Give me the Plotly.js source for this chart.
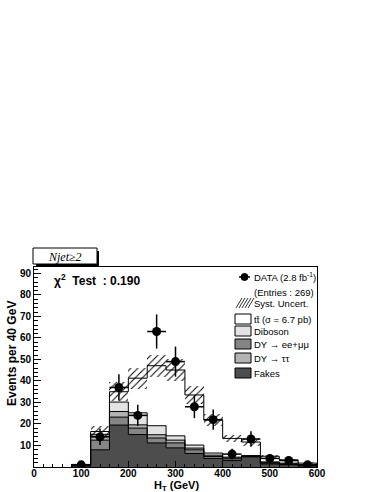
<!DOCTYPE html>
<html>
<head>
<meta charset="utf-8">
<script src="https://cdn.plot.ly/plotly-3.0.1.min.js"></script>
<style>
html,body{margin:0;padding:0;background:#fff;}
#chart{width:380px;height:492px;}
</style>
</head>
<body>
<div id="chart"></div>
<script>
// ---- data ----
const binCenters = [100, 140, 180, 220, 260, 300, 340, 380, 420, 460, 500, 540, 580];
const binWidth = 40;
const fakes   = [0.5, 8.0, 19.5, 15.1, 11.2, 8.9, 6.3, 4.0, 3.0, 4.7, 1.4, 1.0, 0.5];
const dyEEMM  = [0.3, 4.5, 3.7, 3.0, 2.3, 2.3, 1.7, 0.9, 0.8, 0.3, 0.4, 0.3, 0.2];
const dyTauTau= [0.1, 1.8, 2.6, 1.5, 1.5, 1.3, 0.8, 0.6, 0.4, 0.1, 0.2, 0.1, 0.05];
const diboson = [0.1, 0.9, 4.4, 5.6, 4.2, 2.0, 1.4, 1.0, 0.4, 0.2, 0.4, 0.4, 0.15];
const ttbar   = [0.2, 1.3, 4.8, 16.1, 27.9, 30.6, 23.3, 15.3, 8.7, 6.3, 2.6, 1.5, 0.9];
const systUnc = [0.2, 2.6, 4.3, 4.8, 5.2, 5.0, 4.3, 2.7, 1.5, 2.0, 0.8, 0.5, 0.3];
const dataCounts = [1, 14, 37, 24, 63, 49, 28, 22, 6, 13, 4, 3, 1];
const xTicks = [0, 100, 200, 300, 400, 500, 600];
const yTicks = [0, 10, 20, 30, 40, 50, 60, 70, 80, 90];
const yTickText = [' ', '10', '20', '30', '40', '50', '60', '70', '80', '90'];

// ---- stacking ----
const comps = [
  {name: 'Fakes', y: fakes, color: '#4d4d4d'},
  {name: 'DY → ee+μμ', y: dyEEMM, color: '#858585'},
  {name: 'DY → ττ', y: dyTauTau, color: '#b3b3b3'},
  {name: 'Diboson', y: diboson, color: '#e3e3e3'},
  {name: 'tt̄', y: ttbar, color: '#ffffff'}
];
const leftEdges = binCenters.map(c => c - binWidth / 2);
const lastEdge = binCenters[binCenters.length - 1] + binWidth / 2;
const traces = [];
const outlines = [];
let cum = binCenters.map(() => 0);
comps.forEach(c => {
  traces.push({
    type: 'bar', x: binCenters, y: c.y, base: cum.slice(), width: binWidth,
    marker: {color: c.color, line: {width: 0}},
    hoverinfo: 'skip', showlegend: false
  });
  cum = cum.map((v, i) => v + c.y[i]);
  outlines.push({
    type: 'scatter', mode: 'lines',
    x: [leftEdges[0]].concat(leftEdges, [lastEdge, lastEdge]),
    y: [0].concat(cum, [cum[cum.length - 1], 0]),
    line: {shape: 'hv', color: '#000', width: 1},
    hoverinfo: 'skip', showlegend: false
  });
});
const total = cum;
outlines.forEach(o => traces.push(o));
traces.push({
  type: 'bar', x: binCenters, y: systUnc.map(s => 2 * s),
  base: total.map((t, i) => t - systUnc[i]), width: binWidth,
  marker: {color: 'rgba(0,0,0,0)', line: {width: 0},
    pattern: {shape: '/', fgcolor: '#000', bgcolor: 'rgba(0,0,0,0)', size: 5, solidity: 0.2}},
  hoverinfo: 'skip', showlegend: false
});
traces.push({
  type: 'scatter', mode: 'markers', x: binCenters, y: dataCounts,
  marker: {color: '#000', size: 9},
  error_y: {type: 'data', array: dataCounts.map(v => Math.sqrt(v)), color: '#000', thickness: 1.5, width: 0},
  error_x: {type: 'constant', value: binWidth / 2, color: '#000', thickness: 1.5, width: 0},
  hoverinfo: 'skip', showlegend: false
});

// ---- layout helpers (pixel -> paper) ----
const L = 34, R = 317, T = 267, B = 467;
const fx = px => (px - L) / (R - L);
const fy = py => (B - py) / (B - T);

const shapes = [];
const annotations = [];

// Njet box with shadow
shapes.push({type: 'rect', xref: 'paper', yref: 'paper', x0: fx(36), x1: fx(99), y0: fy(251), y1: fy(266),
  fillcolor: '#000', line: {width: 0}});
shapes.push({type: 'rect', xref: 'paper', yref: 'paper', x0: fx(33), x1: fx(97), y0: fy(248), y1: fy(264),
  fillcolor: '#fff', line: {color: '#000', width: 1}});
annotations.push({xref: 'paper', yref: 'paper', x: fx(65), y: fy(256.5), text: 'Njet≥2', showarrow: false,
  font: {family: 'Liberation Serif', size: 12, color: '#000', style: 'italic'}, xanchor: 'center', yanchor: 'middle'});

// chi2 text
annotations.push({xref: 'paper', yref: 'paper', x: fx(52), y: fy(280), showarrow: false,
  text: '<b>χ<sup>2</sup>&nbsp; Test&nbsp; : 0.190</b>',
  font: {family: 'Liberation Sans', size: 12, color: '#000'}, xanchor: 'left', yanchor: 'middle'});

// legend
const legX0 = 235, legX1 = 251, textX = 252;
const legFont = {family: 'Liberation Sans', size: 9.5, color: '#000'};
function legText(py, txt) {
  annotations.push({xref: 'paper', yref: 'paper', x: fx(textX), y: fy(py), text: txt, showarrow: false,
    font: legFont, xanchor: 'left', yanchor: 'middle'});
}
shapes.push({type: 'line', xref: 'paper', yref: 'paper', x0: fx(239), x1: fx(250), y0: fy(277), y1: fy(277),
  line: {color: '#000', width: 1.5}});
shapes.push({type: 'circle', xref: 'paper', yref: 'paper', x0: fx(241), x1: fx(248), y0: fy(273.5), y1: fy(280.5),
  fillcolor: '#000', line: {color: '#000', width: 1}});
legText(277, 'DATA (2.8 fb<sup>-1</sup>)');
legText(292, '(Entries : 269)');
for (let k = 0; k < 5; k++) {
  const xs = 236 + k * 3;
  shapes.push({type: 'line', xref: 'paper', yref: 'paper', x0: fx(xs), y0: fy(308), x1: fx(xs + 6), y1: fy(298),
    line: {color: '#000', width: 0.8}});
}
legText(303, 'Syst. Uncert.');
const legRows = [
  {py: 319, color: '#ffffff', txt: 'tt̄ (σ = 6.7 pb)'},
  {py: 331, color: '#e3e3e3', txt: 'Diboson'},
  {py: 344, color: '#858585', txt: 'DY → ee+μμ'},
  {py: 358, color: '#b3b3b3', txt: 'DY → ττ'},
  {py: 373, color: '#4d4d4d', txt: 'Fakes'}
];
legRows.forEach(r => {
  shapes.push({type: 'rect', xref: 'paper', yref: 'paper', x0: fx(legX0), x1: fx(legX1), y0: fy(r.py - 5), y1: fy(r.py + 5),
    fillcolor: r.color, line: {color: '#000', width: 1}});
  legText(r.py, r.txt);
});

// axis titles
annotations.push({xref: 'paper', yref: 'paper', x: fx(176), y: fy(486), showarrow: false,
  text: '<b>H<sub>T</sub> (GeV)</b>', font: {family: 'Liberation Sans', size: 11, color: '#000'},
  xanchor: 'center', yanchor: 'middle'});
annotations.push({xref: 'paper', yref: 'paper', x: fx(12), y: fy(354), showarrow: false, textangle: -90,
  text: '<b>Events per 40 GeV</b>', font: {family: 'Liberation Sans', size: 12, color: '#000'},
  xanchor: 'center', yanchor: 'middle'});

const tickFont = {family: 'Liberation Sans', size: 10, color: '#000', weight: 'bold'};
const layout = {
  width: 380, height: 492,
  margin: {l: L, r: 380 - R, t: T, b: 492 - B, pad: 0},
  paper_bgcolor: '#fff', plot_bgcolor: '#fff',
  barmode: 'overlay', bargap: 0,
  showlegend: false,
  xaxis: {
    range: [0, 600], tickmode: 'array', tickvals: xTicks, ticks: 'inside', ticklen: 6, tickwidth: 1, tickcolor: '#000',
    minor: {dtick: 20, tick0: 0, ticks: 'inside', ticklen: 3, tickcolor: '#000', showgrid: false},
    showline: true, linecolor: '#000', linewidth: 1, mirror: true, showgrid: false, zeroline: false,
    tickfont: tickFont, ticklabelstandoff: -3, fixedrange: true
  },
  yaxis: {
    range: [0, 93], tickmode: 'array', tickvals: yTicks, ticktext: yTickText, ticks: 'inside', ticklen: 7, tickwidth: 1, tickcolor: '#000',
    minor: {dtick: 2, tick0: 0, ticks: 'inside', ticklen: 3.5, tickcolor: '#000', showgrid: false},
    showline: true, linecolor: '#000', linewidth: 1, mirror: true, showgrid: false, zeroline: false,
    tickfont: tickFont, fixedrange: true
  },
  shapes: shapes,
  annotations: annotations
};
Plotly.newPlot('chart', traces, layout, {staticPlot: true, displayModeBar: false});
</script>
</body>
</html>
